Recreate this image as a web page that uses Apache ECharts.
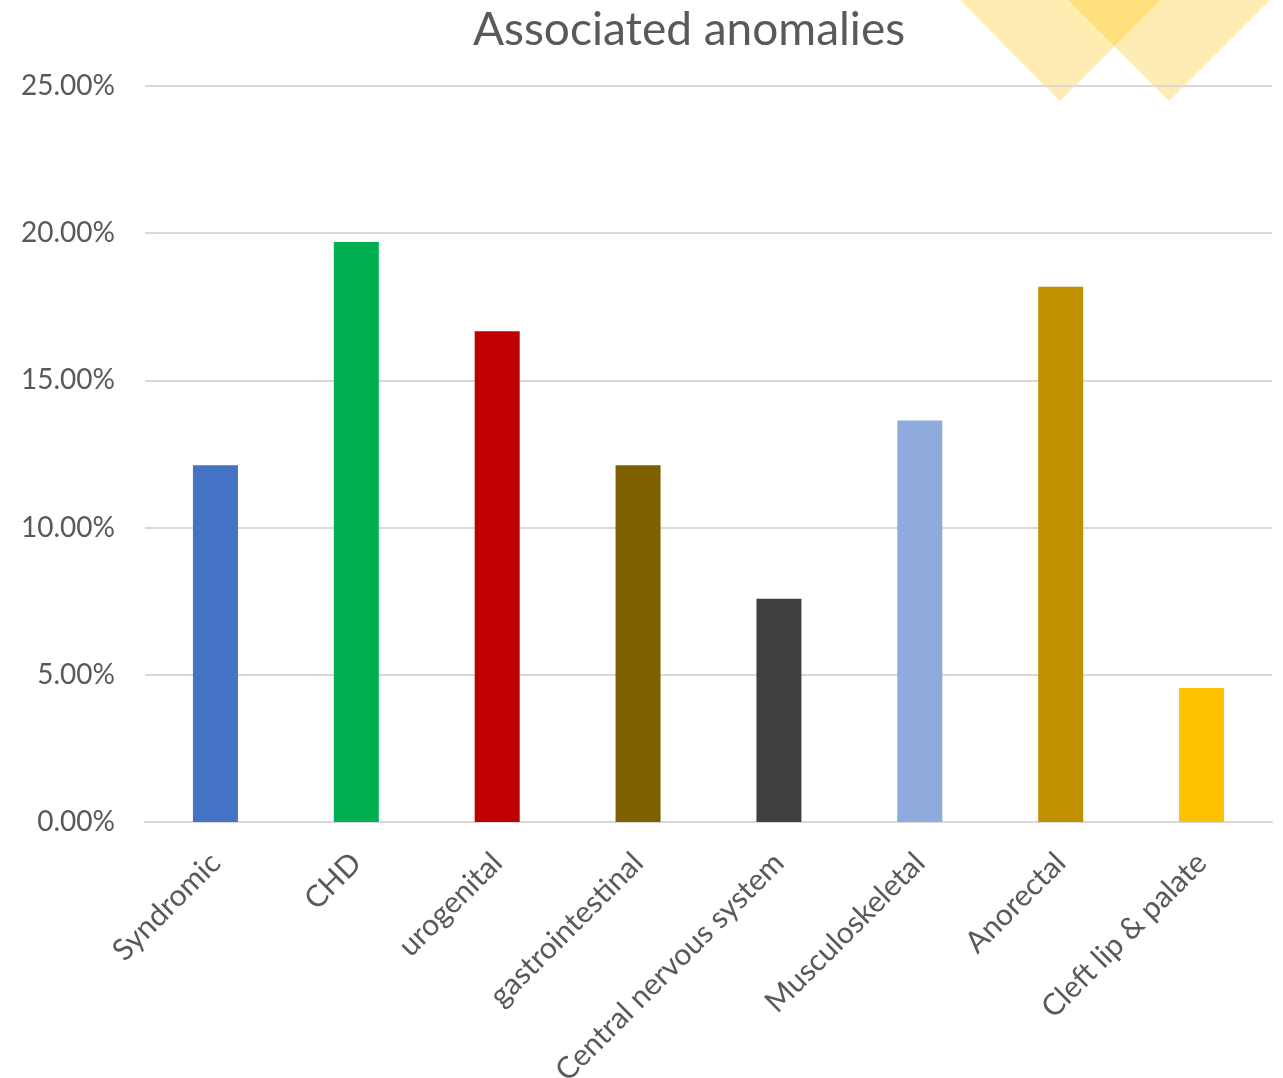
<!DOCTYPE html>
<html>
<head>
<meta charset="utf-8">
<script src="https://cdn.jsdelivr.net/npm/echarts@6/dist/echarts.min.js"></script>
<style>
  html, body { margin: 0; padding: 0; background: #ffffff; }
  #chart { width: 1283px; height: 1078px; }
</style>
</head>
<body>
<div id="chart"></div>
<script>
// Share of cases with each associated anomaly (%)
const categories = [
  'Syndromic', 'CHD', 'urogenital', 'gastrointestinal',
  'Central nervous system', 'Musculoskeletal', 'Anorectal', 'Cleft lip & palate'
];
const percentages = [12.12, 19.70, 16.67, 12.12, 7.58, 13.64, 18.18, 4.55];
const barColors = ['#4472C4', '#00B050', '#C00000', '#7F6000', '#404040', '#8FAADC', '#BF9000', '#FFC000'];
const yTicks = { min: 0, max: 25, interval: 5 };

const FONT = 'Lato, "Open Sans", sans-serif';
const TEXT = '#595959';

const chart = echarts.init(document.getElementById('chart'));

chart.setOption({
  backgroundColor: '#ffffff',
  animation: false,
  title: {
    text: 'Associated anomalies',
    left: 684,
    textAlign: 'center',
    top: 2,
    textStyle: { fontFamily: FONT, fontSize: 46, fontWeight: 'normal', color: TEXT }
  },
  grid: { left: 145, right: 11, top: 86, bottom: 256, containLabel: false, outerBoundsMode: 'none' },
  xAxis: {
    type: 'category',
    data: categories,
    axisLine: { show: true, lineStyle: { color: '#d9d9d9', width: 2 } },
    axisTick: { show: false },
    axisLabel: {
      rotate: 45,
      interval: 0,
      margin: 36,
      fontFamily: FONT,
      fontSize: 30,
      color: TEXT
    }
  },
  yAxis: {
    type: 'value',
    min: yTicks.min,
    max: yTicks.max,
    interval: yTicks.interval,
    axisLine: { show: false },
    axisTick: { show: false },
    splitLine: { lineStyle: { color: '#d9d9d9', width: 2 } },
    axisLabel: {
      margin: 30,
      fontFamily: FONT,
      fontSize: 28,
      color: TEXT,
      formatter: v => v.toFixed(2) + '%'
    }
  },
  series: [{
    type: 'bar',
    barWidth: 45,
    data: percentages.map((v, i) => ({ value: v, itemStyle: { color: barColors[i] } }))
  }],
  // Decorative translucent yellow chevrons in the top-right corner
  graphic: [
    {
      type: 'polygon',
      silent: true,
      z: -1,
      shape: { points: [[940, -20], [1180, -20], [1060, 101]] },
      style: { fill: 'rgba(255,192,0,0.3)' }
    },
    {
      type: 'polygon',
      silent: true,
      z: -1,
      shape: { points: [[1048, -20], [1290, -20], [1169, 101]] },
      style: { fill: 'rgba(255,192,0,0.3)' }
    }
  ]
});
</script>
</body>
</html>
